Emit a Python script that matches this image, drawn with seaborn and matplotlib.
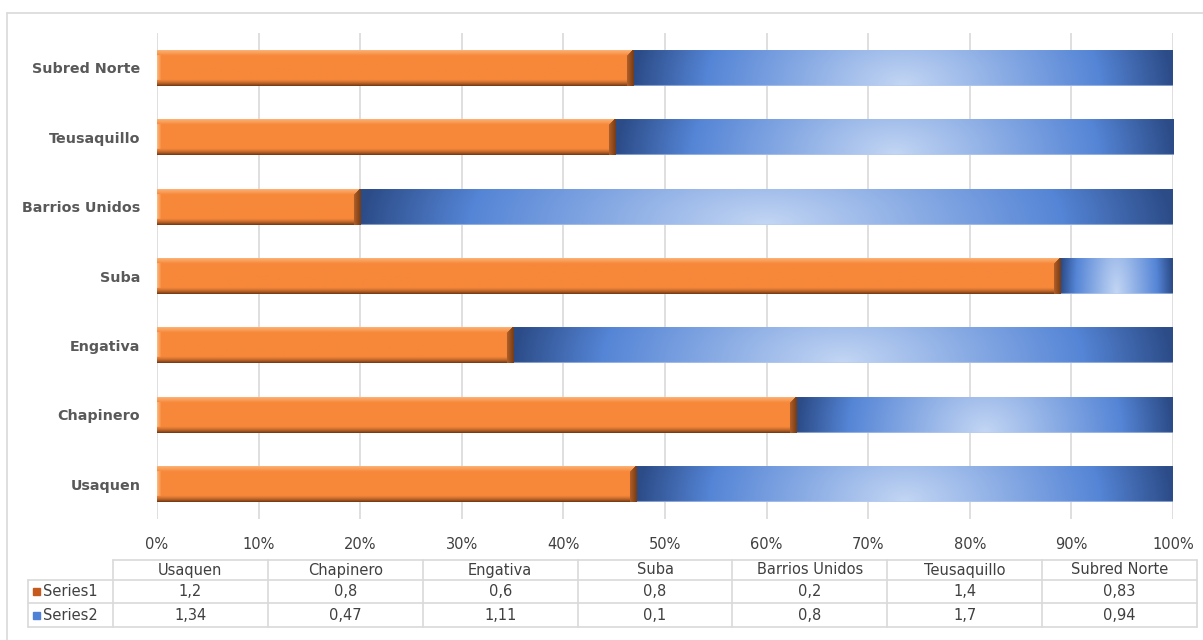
import numpy as np
import pandas as pd
import matplotlib
matplotlib.use("Agg")
import matplotlib.pyplot as plt
import seaborn as sns
from matplotlib.colors import LinearSegmentedColormap, to_rgb

# ---------------- data ----------------
categories = ["Usaquen", "Chapinero", "Engativa", "Suba", "Barrios Unidos", "Teusaquillo", "Subred Norte"]
series1 = [1.2, 0.8, 0.6, 0.8, 0.2, 1.4, 0.83]
series2 = [1.34, 0.47, 1.11, 0.1, 0.8, 1.7, 0.94]
series_names = ["Series1", "Series2"]
xticks = [0, 10, 20, 30, 40, 50, 60, 70, 80, 90, 100]

sns.set_theme(style="white")
plt.rcParams["font.family"] = ["DejaVu Sans"]

W, H = 1203, 640
fig = plt.figure(figsize=(W / 100, H / 100), dpi=100)

# overlay axes in pixel coordinates for frame and table
ov = fig.add_axes([0, 0, 1, 1], zorder=0)
ov.set_xlim(0, W)
ov.set_ylim(H, 0)
ov.axis("off")

AX_L, AX_R, AX_T, AX_B = 157, 1173, 33, 519
ax = fig.add_axes([AX_L / W, 1 - AX_B / H, (AX_R - AX_L) / W, (AX_B - AX_T) / H], zorder=1)
ax.patch.set_alpha(0)

df = pd.DataFrame({"cat": categories, "s1": series1, "s2": series2})
df["p1"] = df["s1"] / (df["s1"] + df["s2"]) * 100
df["total"] = 100.0
order = categories[::-1]

sns.barplot(data=df, y="cat", x="total", order=order, orient="h", color="#4472c4",
            width=0.52, errorbar=None, ax=ax)
sns.barplot(data=df, y="cat", x="p1", order=order, orient="h", color="#f58735",
            width=0.52, errorbar=None, ax=ax)

bars = list(ax.patches)
n = len(categories)
px_per_x = (AX_R - AX_L) / 100.0
px_per_y = (AX_B - AX_T) / 7.0

blue_cmap = LinearSegmentedColormap.from_list(
    "bl", [(0.0, "#c3d6f4"), (0.73, "#5585d6"), (1.0, "#2c4c88")])


def blue_img(wpx, hpx):
    u = np.linspace(0, 1, max(wpx, 2))[None, :]
    v = np.linspace(0, 1, max(hpx, 2))[:, None]
    d = np.sqrt(((u - 0.5) * 2) ** 2 + (0.22 * (1 - v)) ** 2)
    d = np.clip(d, 0, 1)
    img = blue_cmap(d)[..., :3]
    # thin light rim on top and bottom
    edge = np.array(to_rgb("#b9cdef"))
    img[0, :] = img[0, :] * 0.4 + edge * 0.6
    img[-1, :] = img[-1, :] * 0.4 + edge * 0.6
    return img


def orange_img(wpx, hpx):
    img = np.zeros((hpx, wpx, 3))
    base = np.array(to_rgb("#f7883a"))
    img[:] = base
    light = np.array(to_rgb("#fcb77c"))
    dark = np.array(to_rgb("#b5622a"))
    darkest = np.array(to_rgb("#7a3d15"))
    tb = 6
    for i in range(tb):
        t = 1 - i / tb
        img[i, :] = base * (1 - t) + light * t
    bb = 6
    for i in range(bb):
        t = (i + 1) / bb
        img[hpx - bb + i, :] = base * (1 - t) + (dark * (1 - t) + darkest * t) * t
    rb = 7
    rows = np.arange(hpx)
    for j in range(rb):
        t = (j + 1) / rb
        col = dark * (1 - t) + darkest * t
        mask = rows >= (rb - j - 1) * tb / rb
        img[mask, wpx - rb + j] = col
    lb = 4
    for j in range(lb):
        t = 1 - j / lb
        img[tb:hpx - bb, j] = base * (1 - t) + light * t
    return img


for k, p in enumerate(bars):
    x0, y0 = p.get_x(), p.get_y()
    w, h = p.get_width(), p.get_height()
    if w <= 0:
        continue
    if k < n:
        start = bars[k + n].get_width()  # visible blue part begins where orange ends
        x0, w = start, 100 - start
        img = blue_img(int(round(w * px_per_x)), int(round(h * px_per_y)))
    else:
        img = orange_img(max(int(round(w * px_per_x)), 10), max(int(round(h * px_per_y)), 12))
    im = ax.imshow(img, extent=(x0, x0 + w, y0 + h, y0), aspect="auto",
                   interpolation="bilinear", zorder=2 + (k >= n))
    im.set_clip_path(p)
    p.set_facecolor("none")
    p.set_edgecolor("none")

ax.set_xlim(0, 100)
ax.set_ylim(6.5, -0.5)
ax.set_xticks(xticks)
ax.set_xticklabels([f"{t}%" for t in xticks], fontsize=10.5, color="#404040")
ax.tick_params(axis="x", length=0, pad=13)
ax.tick_params(axis="y", length=0, pad=12)
for lbl in ax.get_yticklabels():
    lbl.set_fontweight("bold")
    lbl.set_fontsize(10.3)
    lbl.set_color("#595959")
for xv in xticks:
    ax.axvline(xv, color="#d9d9d9", lw=1.2, zorder=1)
for s in ax.spines.values():
    s.set_visible(False)
ax.set_xlabel("")
ax.set_ylabel("")
ax.grid(False)

# ---------------- frame ----------------
fc = "#d9d9d9"
ov.plot([7, 7], [13, H], color=fc, lw=1.2)
ov.plot([7, W], [13, 13], color=fc, lw=1.2)

# ---------------- data table ----------------
tl, tr = 28, 1197
c0 = 113
cw = (tr - c0) / n
r_top, r_h, r_1, r_2 = 560, 580, 603, 627
lc = "#d9d9d9"
ov.plot([c0, tr], [r_top, r_top], color=lc, lw=1.2)
for yy in (r_h, r_1, r_2):
    ov.plot([tl, tr], [yy, yy], color=lc, lw=1.2)
ov.plot([tl, tl], [r_h, r_2], color=lc, lw=1.2)
for k in range(n + 1):
    xx = c0 + k * cw
    ov.plot([xx, xx], [r_top, r_2], color=lc, lw=1.2)

tc = "#404040"
for k, cat in enumerate(categories):
    cx = c0 + (k + 0.5) * cw
    ov.text(cx, (r_top + r_h) / 2, cat, ha="center", va="center", fontsize=10.5,
            color=tc, fontweight="medium")
    ov.text(cx, (r_h + r_1) / 2, f"{series1[k]:g}".replace(".", ","), ha="center", va="center",
            fontsize=10.5, color=tc)
    ov.text(cx, (r_1 + r_2) / 2, f"{series2[k]:g}".replace(".", ","), ha="center", va="center",
            fontsize=10.5, color=tc)

key_colors = ["#c65a1e", "#4f81d6"]
for i, (nm, yy) in enumerate(zip(series_names, [(r_h + r_1) / 2, (r_1 + r_2) / 2])):
    ov.add_patch(plt.Rectangle((33, yy - 3.5), 7, 7, color=key_colors[i]))
    ov.text(43, yy, nm, ha="left", va="center", fontsize=10.5, color=tc)

fig.savefig("out.png", dpi=100)
